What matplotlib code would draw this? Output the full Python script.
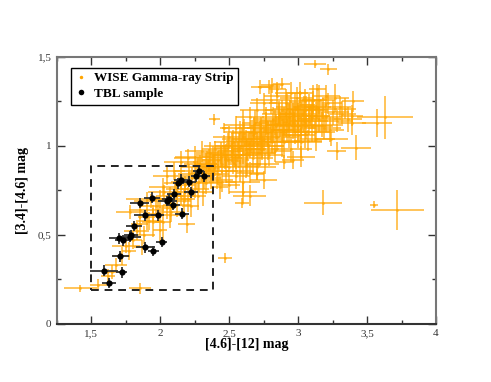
import numpy as np
import matplotlib
matplotlib.use("Agg")
import matplotlib.pyplot as plt
from matplotlib.ticker import MultipleLocator, FuncFormatter

plt.rcParams["font.family"] = ["Liberation Serif", "DejaVu Serif"]

# WISE Gamma-ray Strip sources: [4.6]-[12], [3.4]-[4.6] and their errors
wise_x = [
    1.42, 1.55, 1.62, 1.65, 1.68, 1.72, 1.75, 1.77, 1.80, 1.78, 1.83, 1.85, 1.85, 1.87, 1.88,
    1.90, 1.90, 1.92, 1.93, 1.95, 1.95, 1.97, 1.98, 2.00, 2.00, 2.02, 2.02, 2.03, 2.05, 2.05,
    2.07, 2.08, 2.10, 2.10, 2.12, 2.12, 2.15, 2.15, 2.15, 2.17, 2.18, 2.19, 2.20, 2.20, 2.21,
    2.22, 2.25, 2.25, 2.25, 2.27, 2.27, 2.28, 2.30, 2.30, 2.31, 2.33, 2.35, 2.35, 2.37, 2.38,
    2.39, 2.40, 2.40, 2.42, 2.42, 2.43, 2.44, 2.45, 2.45, 2.46, 2.47, 2.48, 2.48, 2.50, 2.50,
    2.50, 2.52, 2.53, 2.53, 2.55, 2.55, 2.55, 2.57, 2.58, 2.58, 2.59, 2.60, 2.60, 2.60, 2.62,
    2.62, 2.63, 2.63, 2.65, 2.65, 2.65, 2.67, 2.67, 2.68, 2.70, 2.70, 2.70, 2.71, 2.72, 2.72,
    2.73, 2.74, 2.75, 2.75, 2.76, 2.77, 2.78, 2.78, 2.79, 2.80, 2.80, 2.81, 2.82, 2.83, 2.84,
    2.85, 2.85, 2.86, 2.87, 2.88, 2.88, 2.89, 2.90, 2.90, 2.91, 2.92, 2.93, 2.93, 2.94, 2.95,
    2.95, 2.96, 2.97, 2.98, 2.98, 3.00, 3.00, 3.01, 3.02, 3.02, 3.03, 3.04, 3.05, 3.05, 3.06,
    3.07, 3.08, 3.08, 3.10, 3.10, 3.11, 3.12, 3.13, 3.13, 3.15, 3.15, 3.17, 3.18, 3.20, 3.20,
    3.22, 3.23, 3.25, 3.27, 3.28, 3.30, 3.32, 3.34, 3.36, 3.39, 3.39, 3.40,
    2.72, 2.79, 2.81, 2.85, 2.88, 3.01, 3.12, 3.14, 3.22, 2.39, 2.46, 3.57, 3.63, 3.42, 3.28,
    2.70, 2.59, 2.47, 3.18, 3.55, 3.72, 1.85, 2.90, 2.96, 3.02, 3.24, 2.60, 2.65, 2.75,
    2.52, 2.56, 2.61, 2.64, 2.68, 2.73, 2.77, 2.82, 2.86, 2.91, 2.96, 3.00, 3.04, 3.09, 3.14,
    2.34, 2.38, 2.44, 2.49, 2.54, 2.58, 2.66, 2.69, 2.74, 2.83, 2.92, 2.99, 3.06, 3.11, 3.19,
    2.18, 2.23, 2.29, 2.32, 2.36, 2.41, 2.11, 2.07, 2.26, 2.33,
]
wise_y = [
    0.20, 0.22, 0.27, 0.29, 0.33, 0.38, 0.44, 0.41, 0.47, 0.63, 0.52, 0.64, 0.56, 0.43, 0.50,
    0.60, 0.70, 0.58, 0.69, 0.62, 0.57, 0.66, 0.64, 0.70, 0.53, 0.57, 0.77, 0.74, 0.65, 0.83,
    0.61, 0.63, 0.70, 0.86, 0.76, 0.67, 0.72, 0.80, 0.91, 0.69, 0.78, 0.56, 0.70, 0.93, 0.84,
    0.66, 0.76, 0.94, 0.86, 0.88, 0.72, 0.80, 0.85, 0.97, 0.74, 0.79, 0.87, 0.92, 0.82, 0.95,
    0.89, 0.88, 0.98, 0.84, 0.92, 0.77, 0.96, 0.90, 0.80, 1.00, 0.93, 0.95, 0.86, 0.88, 0.78,
    1.05, 0.97, 0.91, 1.02, 0.92, 0.83, 1.10, 1.00, 0.86, 0.95, 1.04, 0.95, 0.80, 1.12, 1.03,
    0.89, 0.90, 0.98, 0.98, 0.85, 1.16, 1.06, 0.93, 1.02, 1.01, 0.88, 1.20, 0.96, 0.96, 1.08,
    1.10, 1.00, 1.04, 1.24, 0.90, 1.14, 1.00, 1.07, 0.95, 1.08, 1.26, 1.02, 1.15, 0.97, 1.11,
    1.05, 1.28, 1.18, 1.12, 1.20, 1.03, 1.09, 1.02, 1.14, 1.24, 1.09, 1.16, 1.06, 1.19, 0.98,
    1.30, 1.12, 1.13, 1.22, 1.08, 1.06, 1.17, 1.23, 1.10, 1.02, 1.18, 1.14, 1.25, 1.08, 1.20,
    1.03, 1.14, 1.22, 1.20, 1.11, 1.26, 1.08, 1.17, 1.04, 1.26, 1.15, 1.12, 1.21, 1.16, 1.28,
    1.24, 1.09, 1.19, 1.27, 1.14, 1.22, 1.18, 1.21, 1.15, 1.17, 1.13, 1.25,
    1.33, 1.33, 1.34, 1.32, 1.35, 1.30, 1.46, 1.32, 1.43, 1.15, 1.10, 1.13, 1.16, 0.99, 0.97,
    0.84, 0.68, 0.37, 0.68, 0.67, 0.64, 0.20, 0.91, 0.92, 0.94, 1.04, 0.74, 0.72, 0.81,
    1.00, 0.97, 1.07, 1.01, 1.10, 1.05, 1.12, 1.09, 1.16, 1.12, 1.18, 1.15, 1.21, 1.17, 1.22,
    0.91, 0.86, 0.94, 0.99, 0.95, 1.08, 1.04, 1.13, 0.98, 1.13, 1.21, 1.27, 1.11, 1.23, 1.10,
    0.74, 0.82, 0.90, 0.83, 0.96, 0.81, 0.79, 0.72, 0.83, 0.90,
]
wise_xerr = [
    0.12, 0.06, 0.05, 0.07, 0.08, 0.06, 0.10, 0.05, 0.07, 0.10, 0.09, 0.08, 0.06, 0.06, 0.08,
    0.06, 0.15, 0.10, 0.12, 0.07, 0.08, 0.12, 0.05, 0.08, 0.05, 0.06, 0.10, 0.12, 0.06, 0.10,
    0.10, 0.10, 0.12, 0.08, 0.08, 0.10, 0.10, 0.07, 0.12, 0.05, 0.07, 0.06, 0.05, 0.10, 0.08,
    0.06, 0.10, 0.14, 0.15, 0.12, 0.06, 0.08, 0.10, 0.12, 0.08, 0.12, 0.08, 0.10, 0.07, 0.12,
    0.10, 0.10, 0.10, 0.08, 0.12, 0.06, 0.10, 0.10, 0.10, 0.14, 0.12, 0.12, 0.08, 0.08, 0.08,
    0.12, 0.10, 0.09, 0.14, 0.09, 0.10, 0.10, 0.12, 0.10, 0.08, 0.14, 0.08, 0.12, 0.14, 0.14,
    0.10, 0.10, 0.12, 0.12, 0.10, 0.10, 0.10, 0.15, 0.15, 0.09, 0.14, 0.12, 0.12, 0.12, 0.10,
    0.10, 0.16, 0.14, 0.10, 0.10, 0.12, 0.12, 0.14, 0.10, 0.10, 0.14, 0.12, 0.15, 0.12, 0.18,
    0.16, 0.10, 0.12, 0.10, 0.12, 0.15, 0.14, 0.14, 0.18, 0.12, 0.12, 0.10, 0.14, 0.12, 0.15,
    0.12, 0.16, 0.12, 0.14, 0.10, 0.12, 0.14, 0.10, 0.10, 0.15, 0.16, 0.12, 0.12, 0.18, 0.12,
    0.10, 0.14, 0.12, 0.12, 0.15, 0.10, 0.15, 0.10, 0.14, 0.12, 0.16, 0.14, 0.10, 0.12, 0.10,
    0.10, 0.10, 0.12, 0.10, 0.12, 0.08, 0.10, 0.08, 0.10, 0.08, 0.10, 0.08,
    0.06, 0.08, 0.08, 0.06, 0.06, 0.10, 0.08, 0.06, 0.06, 0.04, 0.03, 0.11, 0.20, 0.11, 0.07,
    0.05, 0.05, 0.05, 0.14, 0.03, 0.19, 0.08, 0.07, 0.08, 0.10, 0.12, 0.10, 0.12, 0.10,
    0.12, 0.14, 0.10, 0.16, 0.12, 0.14, 0.10, 0.15, 0.12, 0.14, 0.10, 0.16, 0.12, 0.14, 0.10,
    0.10, 0.12, 0.14, 0.10, 0.16, 0.12, 0.14, 0.10, 0.12, 0.14, 0.10, 0.12, 0.14, 0.10, 0.12,
    0.08, 0.10, 0.12, 0.08, 0.10, 0.12, 0.08, 0.10, 0.12, 0.08,
]
wise_yerr = [
    0.02, 0.03, 0.04, 0.04, 0.04, 0.05, 0.04, 0.05, 0.05, 0.04, 0.05, 0.05, 0.06, 0.04, 0.05,
    0.07, 0.04, 0.05, 0.04, 0.05, 0.08, 0.06, 0.05, 0.05, 0.07, 0.10, 0.05, 0.04, 0.06, 0.05,
    0.07, 0.06, 0.05, 0.05, 0.05, 0.07, 0.06, 0.05, 0.06, 0.06, 0.05, 0.05, 0.07, 0.05, 0.06,
    0.06, 0.05, 0.06, 0.05, 0.06, 0.08, 0.06, 0.05, 0.06, 0.08, 0.06, 0.05, 0.06, 0.06, 0.05,
    0.06, 0.05, 0.05, 0.06, 0.05, 0.07, 0.06, 0.05, 0.06, 0.06, 0.06, 0.06, 0.07, 0.05, 0.05,
    0.06, 0.06, 0.07, 0.07, 0.05, 0.07, 0.07, 0.07, 0.06, 0.05, 0.06, 0.05, 0.08, 0.08, 0.06,
    0.07, 0.07, 0.06, 0.05, 0.06, 0.06, 0.06, 0.08, 0.08, 0.06, 0.07, 0.07, 0.07, 0.07, 0.06,
    0.06, 0.07, 0.07, 0.06, 0.06, 0.08, 0.08, 0.07, 0.06, 0.06, 0.08, 0.06, 0.07, 0.06, 0.07,
    0.08, 0.07, 0.07, 0.07, 0.06, 0.09, 0.06, 0.09, 0.08, 0.08, 0.06, 0.08, 0.07, 0.07, 0.07,
    0.06, 0.08, 0.06, 0.08, 0.07, 0.07, 0.07, 0.08, 0.06, 0.08, 0.08, 0.06, 0.07, 0.09, 0.08,
    0.06, 0.08, 0.07, 0.06, 0.09, 0.08, 0.06, 0.06, 0.07, 0.08, 0.07, 0.07, 0.06, 0.08, 0.06,
    0.06, 0.07, 0.07, 0.08, 0.06, 0.06, 0.07, 0.06, 0.07, 0.06, 0.07, 0.06,
    0.04, 0.04, 0.04, 0.04, 0.03, 0.06, 0.02, 0.03, 0.03, 0.03, 0.03, 0.08, 0.12, 0.07, 0.05,
    0.03, 0.03, 0.03, 0.07, 0.02, 0.11, 0.03, 0.04, 0.05, 0.06, 0.04, 0.06, 0.06, 0.05,
    0.07, 0.06, 0.08, 0.07, 0.06, 0.08, 0.07, 0.06, 0.08, 0.07, 0.06, 0.08, 0.07, 0.06, 0.07,
    0.06, 0.07, 0.06, 0.08, 0.07, 0.06, 0.08, 0.07, 0.06, 0.07, 0.08, 0.06, 0.07, 0.08, 0.06,
    0.05, 0.06, 0.05, 0.07, 0.06, 0.05, 0.06, 0.05, 0.07, 0.06,
]

# TBL sample
tbl_x = [
    1.85, 1.94, 1.89, 1.98, 1.81, 1.79, 1.78, 1.70, 1.73, 2.01, 1.89, 1.95, 1.71, 1.59,
    1.72, 1.63, 2.05, 2.09, 2.16, 2.10, 2.22, 2.28, 2.32, 2.26, 2.21, 2.15, 2.13, 2.06,
]
tbl_y = [
    0.68, 0.71, 0.61, 0.61, 0.55, 0.50, 0.49, 0.48, 0.47, 0.46, 0.43, 0.41, 0.38, 0.30,
    0.29, 0.23, 0.69, 0.67, 0.62, 0.73, 0.74, 0.86, 0.83, 0.83, 0.80, 0.81, 0.79, 0.70,
]
tbl_xerr = [
    0.07, 0.06, 0.08, 0.05, 0.06, 0.05, 0.08, 0.07, 0.06, 0.04, 0.07, 0.04, 0.06, 0.10,
    0.04, 0.05, 0.07, 0.05, 0.05, 0.05, 0.05, 0.04, 0.04, 0.04, 0.05, 0.05, 0.04, 0.05,
]
tbl_yerr = [
    0.03, 0.03, 0.03, 0.03, 0.03, 0.03, 0.03, 0.03, 0.03, 0.03, 0.03, 0.03, 0.03, 0.03,
    0.03, 0.03, 0.03, 0.03, 0.03, 0.03, 0.03, 0.03, 0.03, 0.03, 0.03, 0.03, 0.03, 0.03,
]

# dashed selection box
box_x = [1.5, 2.38]
box_y = [0.19, 0.89]


def comma_fmt(v, pos):
    s = f"{v:g}"
    return s.replace(".", ",")


fig = plt.figure(figsize=(4.91, 3.82), dpi=100)
ax = fig.add_axes([0.116, 0.152, 0.772, 0.699])

ax.errorbar(
    wise_x, wise_y, xerr=wise_xerr, yerr=wise_yerr,
    fmt="o", ms=2, color="#FFA500", ecolor="#FFA500",
    elinewidth=1.4, capsize=0, alpha=0.65, mew=0,
    label="WISE Gamma-ray Strip", zorder=2,
)
ax.errorbar(
    tbl_x, tbl_y, xerr=tbl_xerr, yerr=tbl_yerr,
    fmt="o", ms=4.5, color="black", ecolor="#333333",
    elinewidth=1.3, capsize=0, mew=0,
    label="TBL sample", zorder=3,
)

ax.plot(
    [box_x[0], box_x[1], box_x[1], box_x[0], box_x[0]],
    [box_y[0], box_y[0], box_y[1], box_y[1], box_y[0]],
    ls=(0, (4, 3)), color="#222222", lw=1.4, zorder=4,
)

ax.set_xlim(1.25, 4.0)
ax.set_ylim(0, 1.5)
ax.xaxis.set_major_locator(MultipleLocator(0.5))
ax.xaxis.set_minor_locator(MultipleLocator(0.25))
ax.yaxis.set_major_locator(MultipleLocator(0.5))
ax.yaxis.set_minor_locator(MultipleLocator(0.25))
ax.xaxis.set_major_formatter(FuncFormatter(comma_fmt))
ax.yaxis.set_major_formatter(FuncFormatter(comma_fmt))
ax.tick_params(which="both", direction="in", top=True, right=True,
               labelsize=8, colors="#333333", pad=4)
ax.tick_params(which="major", length=6, width=1)
ax.tick_params(which="minor", length=3, width=1)
for s in ax.spines.values():
    s.set_color("#777777")
    s.set_linewidth(1.5)
ax.spines["bottom"].set_color("#333333")

ax.set_xlabel("[4.6]-[12] mag", fontsize=10, fontweight="bold", labelpad=0)
ax.set_ylabel("[3.4]-[4.6] mag", fontsize=10, fontweight="bold", labelpad=6)

h, l = ax.get_legend_handles_labels()
leg = ax.legend(
    [h[0][0], h[1][0]], l, loc="upper left", bbox_to_anchor=(0.02, 0.985),
    prop={"weight": "bold", "size": 9.5}, fancybox=False, edgecolor="black",
    handlelength=0.8, handletextpad=0.6, borderpad=0.35, labelspacing=0.25,
    framealpha=1,
)
leg.get_frame().set_linewidth(1.0)
leg.legend_handles[0].set_markersize(2.5)
leg.legend_handles[0].set_alpha(1)
leg.legend_handles[1].set_markersize(4)

fig.savefig("out.png", dpi=100)
